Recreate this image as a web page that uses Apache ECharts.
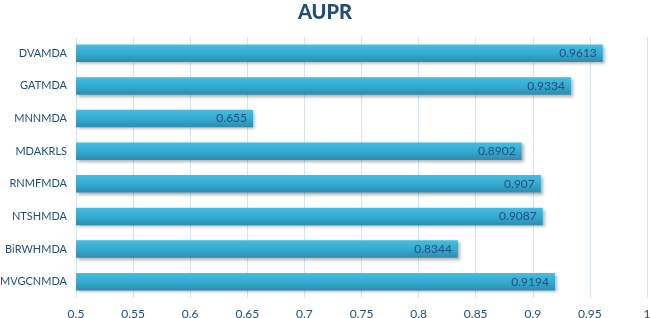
<!DOCTYPE html>
<html>
<head>
<meta charset="utf-8">
<script src="https://cdn.jsdelivr.net/npm/echarts@6/dist/echarts.min.js"></script>
<style>html,body{margin:0;padding:0;background:#fff}#c{width:650px;height:318px}</style>
</head>
<body>
<div id="c"></div>
<script>
var categories = ["DVAMDA", "GATMDA", "MNNMDA", "MDAKRLS", "RNMFMDA", "NTSHMDA", "BiRWHMDA", "MVGCNMDA"];
var aupr = [0.9613, 0.9334, 0.655, 0.8902, 0.907, 0.9087, 0.8344, 0.9194];
var xTicks = [0.5, 0.55, 0.6, 0.65, 0.7, 0.75, 0.8, 0.85, 0.9, 0.95, 1];

var chart = echarts.init(document.getElementById('c'));
var font = 'Lato, "Open Sans", sans-serif';
chart.setOption({
  animation: false,
  title: {
    text: 'AUPR', left: 'center', top: -2,
    textStyle: { fontFamily: font, fontSize: 20, fontWeight: 900, color: '#1F4E79' }
  },
  grid: { left: 76, right: 3, top: 37, bottom: 20, containLabel: false, outerBoundsMode: 'none' },
  xAxis: {
    type: 'value', min: 0.5, max: 1, interval: 0.05,
    axisLine: { show: false }, axisTick: { show: false },
    splitLine: { show: true, lineStyle: { color: '#D5E3F4', width: 1 } },
    axisLabel: {
      fontFamily: font, fontSize: 12, color: '#1F4E79', margin: 10,
      formatter: function (v) {
        var r = Math.round(v * 100) / 100;
        for (var i = 0; i < xTicks.length; i++) if (Math.abs(xTicks[i] - r) < 1e-9) return String(xTicks[i]);
        return '';
      }
    }
  },
  yAxis: {
    type: 'category', data: categories, inverse: true,
    axisLine: { show: false }, axisTick: { show: false },
    axisLabel: { fontFamily: font, fontSize: 11, color: '#1F4E79', margin: 9 }
  },
  series: [{
    type: 'bar', data: aupr, barCategoryGap: '46%',
    itemStyle: {
      color: new echarts.graphic.LinearGradient(0, 0, 0, 1, [
        { offset: 0, color: '#45BCE0' },
        { offset: 0.5, color: '#36ABD1' },
        { offset: 1, color: '#2A8DB0' }
      ]),
      shadowColor: 'rgba(0,0,0,0.3)', shadowBlur: 3, shadowOffsetX: 2, shadowOffsetY: 2
    },
    label: {
      show: true, position: 'insideRight', distance: 6,
      fontFamily: font, fontSize: 12, color: '#254C7C',
      formatter: function (p) { return String(p.value); }
    }
  }]
});
</script>
</body>
</html>
